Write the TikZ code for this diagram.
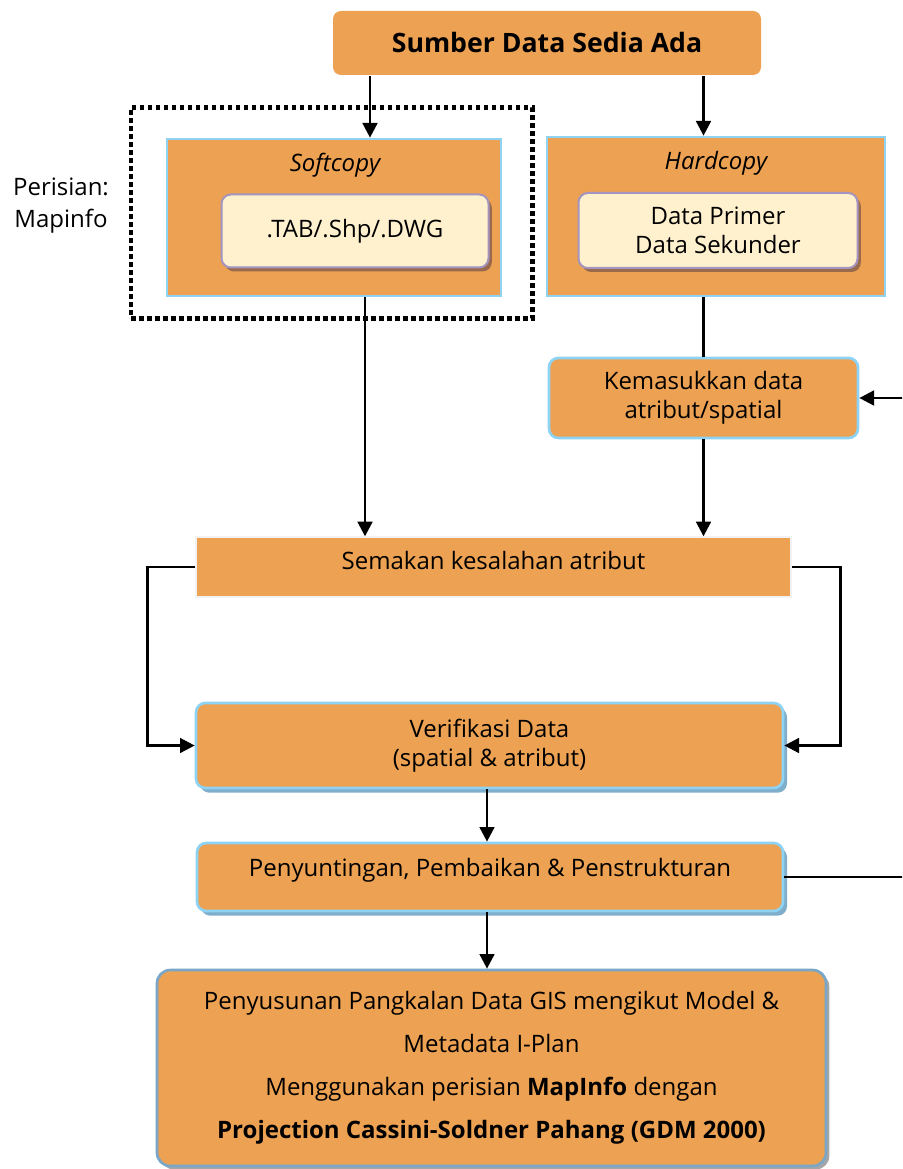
\documentclass[tikz,border=0pt]{standalone}
\usepackage{fontspec}
\setmainfont{Open Sans}
\usetikzlibrary{positioning,arrows.meta,shadows}
\definecolor{boxorange}{HTML}{EDA152}
\definecolor{edgeblue}{HTML}{8ED3F4}
\definecolor{cream}{HTML}{FFF1CE}
\definecolor{lilac}{HTML}{A394C0}
\definecolor{cocoa}{HTML}{9A6A4C}
\definecolor{steel}{HTML}{7EAECB}
\definecolor{slate}{HTML}{7AA7C7}
\definecolor{paleline}{HTML}{F2F2F2}

\tikzset{
  flowbox/.style={fill=boxorange,draw=edgeblue,line width=2pt,align=center,
    font=\fontsize{18}{22}\selectfont},
  roundbox/.style={flowbox,rounded corners=7pt},
  shadebox/.style={roundbox,drop shadow={shadow xshift=3pt,shadow yshift=-3.5pt,fill=steel,opacity=1}},
  filebox/.style={fill=cream,draw=lilac,line width=1.5pt,rounded corners=7pt,align=center,
    font=\fontsize{18}{22}\selectfont,
    drop shadow={shadow xshift=2.5pt,shadow yshift=-3pt,fill=cocoa,opacity=1}},
  arr/.style={-{Triangle[length=11pt,width=11pt]},line width=2pt},
  link/.style={line width=2pt},
}

\begin{document}
\begin{tikzpicture}[x=0.75pt,y=0.75pt]
  \useasboundingbox (0,0) rectangle (902,-1169);

  % sources
  \node[roundbox,draw=none,rounded corners=6pt,minimum width=321pt,minimum height=48pt,
    font=\fontsize{20}{24}\selectfont\bfseries] (src) at (547,-43) {Sumber Data Sedia Ada};
  \node[draw,line width=3.5pt,dash pattern=on 3.5pt off 2.5pt,minimum width=301pt,
    minimum height=158pt] (frame) at (331.5,-213) {};
  \node[align=center,font=\fontsize{18}{24}\selectfont] (sw) at (61,-206) {Perisian:\\Mapinfo};

  \node[flowbox,minimum width=250.5pt,minimum height=117.75pt] (soft) at (334,-217.5) {};
  \node[font=\fontsize{18}{22}\selectfont\itshape] (softlbl) at (335,-165) {Softcopy};
  \node[filebox,minimum width=200.25pt,minimum height=54.75pt] (tab) at (355,-231) {.TAB/.Shp/.DWG};

  \node[flowbox,minimum width=253.5pt,minimum height=119.25pt] (hard) at (716,-216.5) {};
  \node[font=\fontsize{18}{22}\selectfont\itshape] (hardlbl) at (716,-163) {Hardcopy};
  \node[filebox,minimum width=209.25pt,minimum height=56.25pt] (prim) at (718,-230.5)
    {Data Primer\\Data Sekunder};

  % processing steps
  \node[roundbox,minimum width=231.75pt,minimum height=60pt] (kem) at (703.5,-398)
    {Kemasukkan data\\atribut/spatial};
  \node[flowbox,draw=paleline,line width=1pt,minimum width=446.25pt,minimum height=45pt,
    text height=13pt,text depth=10pt] (sem) at (493.5,-567) {Semakan kesalahan atribut};
  \node[shadebox,minimum width=440.25pt,minimum height=63.75pt] (ver) at (489.5,-745.5)
    {Verifikasi Data\\(spatial \& atribut)};
  \node[shadebox,minimum width=439.5pt,minimum height=51pt,text height=13pt,text depth=14pt]
    (pen) at (490,-877) {Penyuntingan, Pembaikan \& Penstrukturan};
  \node[roundbox,draw=slate,rounded corners=10pt,minimum width=501.75pt,minimum height=147pt,
    font=\fontsize{18}{32.25}\selectfont,
    drop shadow={shadow xshift=2.5pt,shadow yshift=-2.5pt,fill=black!35,opacity=1}] (gis) at (491.5,-1068)
    {Penyusunan Pangkalan Data GIS mengikut Model \&\\
     Metadata I-Plan\\
     Menggunakan perisian \textbf{MapInfo} dengan\\
     \textbf{Projection Cassini-Soldner Pahang (GDM 2000)}};

  % connectors
  \coordinate (s1) at (370,0);
  \coordinate (s2) at (365,0);
  \coordinate (s3) at (487,0);
  \draw[arr] (src.south -| s1) -- (soft.north -| s1);
  \draw[arr] (src.south -| kem) -- (hard.north -| kem);
  \draw[arr] (soft.south -| s2) -- (sem.north -| s2);
  \draw[link] (hard.south -| kem) -- (kem.north);
  \draw[arr] (kem.south) -- (sem.north -| kem);
  \draw[arr] (sem.west) -- ++(-48,0) |- (ver.west);
  \draw[arr] (sem.east) -- ++(49,0) |- (ver.east);
  \draw[arr] (ver.south -| s3) -- (pen.north -| s3);
  \draw[arr] (pen.south -| s3) -- (gis.north -| s3);
  \begin{scope}
    \clip (0,0) rectangle (902,-1169);
    \draw[arr] (pen.east) -- ++(150,0) |- (kem.east);
  \end{scope}
\end{tikzpicture}
\end{document}
